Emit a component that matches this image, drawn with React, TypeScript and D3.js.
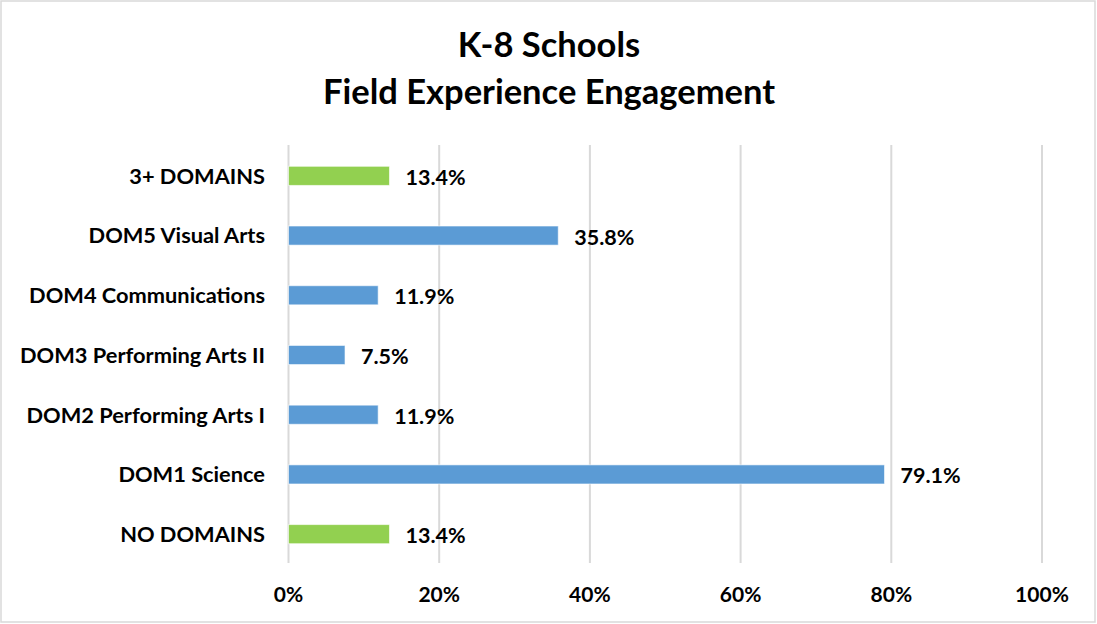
import React from "react";
import * as d3 from "d3";

const categories = [
  "3+ DOMAINS",
  "DOM5 Visual Arts",
  "DOM4 Communications",
  "DOM3 Performing Arts II",
  "DOM2 Performing Arts I",
  "DOM1 Science",
  "NO DOMAINS",
];
const values = [13.4, 35.8, 11.9, 7.5, 11.9, 79.1, 13.4];
const barColors = ["#92D050", "#5B9BD5", "#5B9BD5", "#5B9BD5", "#5B9BD5", "#5B9BD5", "#92D050"];
const ticks = [0, 20, 40, 60, 80, 100];
const titleLines = ["K-8 Schools", "Field Experience Engagement"];

const W = 1097;
const H = 624;
const FONT = "Lato, 'Open Sans', sans-serif";

export default function App() {
  const x = d3.scaleLinear().domain([0, 100]).range([288.5, 1042]);
  const y = d3
    .scaleBand<string>()
    .domain(categories)
    .range([146, 564])
    .paddingInner(0.68)
    .paddingOuter(0.34);

  return (
    <svg
      width={W}
      height={H}
      style={{ position: "absolute", left: 0, top: 0, background: "#fff" }}
      fontFamily={FONT}
    >
      <rect x={1} y={1} width={W - 3} height={H - 3} fill="#fff" stroke="#D9D9D9" strokeWidth={1.5} />
      {titleLines.map((t, i) => (
        <text
          key={t}
          x={549}
          y={57 + i * 47}
          textAnchor="middle"
          fontSize={34.5}
          fontWeight={700}
          fill="#000"
        >
          {t}
        </text>
      ))}
      {ticks.map((t) => (
        <g key={t}>
          <line x1={x(t)} x2={x(t)} y1={145} y2={563} stroke="#D9D9D9" strokeWidth={2} />
          <text x={x(t)} y={602} textAnchor="middle" fontSize={21} fontWeight={700} fill="#000">
            {t}%
          </text>
        </g>
      ))}
      {categories.map((c, i) => {
        const yy = y(c)!;
        const bw = y.bandwidth();
        return (
          <g key={c}>
            <rect
              x={x(0)}
              y={yy}
              width={x(values[i]) - x(0)}
              height={bw}
              fill={barColors[i]}
              stroke="#fff"
              strokeOpacity={0.6}
              strokeWidth={1}
            />
            <text
              x={265}
              y={yy + bw / 2}
              dy="0.36em"
              textAnchor="end"
              fontSize={21.8}
              fontWeight={700}
              fill="#000"
            >
              {c}
            </text>
            <text
              x={x(values[i]) + 16}
              y={yy + bw / 2}
              dy="0.42em"
              textAnchor="start"
              fontSize={21.5}
              fontWeight={700}
              fill="#000"
            >
              {values[i].toFixed(1)}%
            </text>
          </g>
        );
      })}
    </svg>
  );
}
